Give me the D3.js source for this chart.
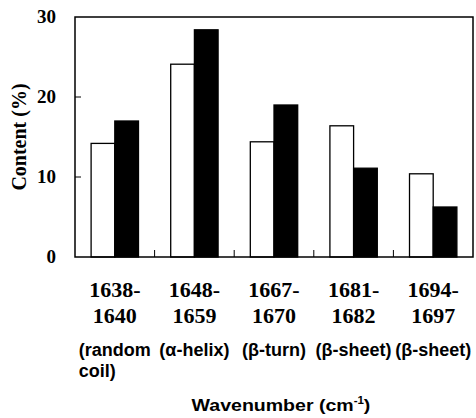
<!DOCTYPE html>
<html>
<head>
<meta charset="utf-8">
<script src="https://cdn.jsdelivr.net/npm/d3@7"></script>
<style>
  body { margin: 0; background: #fff; }
  svg { display: block; }
</style>
</head>
<body>
<svg id="chart" width="476" height="418"></svg>
<script>
'use strict'

// wavenumber ranges (two lines each) and structure assignments
const ranges = [['1638-', '1640'], ['1648-', '1659'], ['1667-', '1670'], ['1681-', '1682'], ['1694-', '1697']]
const structures = [['(random', 'coil)'], ['(\u03b1-helix)'], ['(\u03b2-turn)'], ['(\u03b2-sheet)'], ['(\u03b2-sheet)']]
const series = ['open', 'filled']
const openValues = [14.2, 24.1, 14.4, 16.4, 10.4]
const filledValues = [17.0, 28.4, 19.0, 11.1, 6.25]
const yTicks = [0, 10, 20, 30]

const svg = d3.select('#chart')
const plotLeft = 75, plotRight = 473, plotTop = 17, plotBottom = 257

let x = d3.scaleBand().domain(d3.range(ranges.length)).range([plotLeft, plotRight])
let inner = d3.scaleBand().domain(series).range([0, x.bandwidth()]).paddingOuter(0.68)
let y = d3.scaleLinear().domain([0, 30]).range([plotBottom, plotTop])

let rows = ranges.map((r, i) => ({ i: i, open: openValues[i], filled: filledValues[i] }))

// bars
let groups = svg.append('g').selectAll('g').data(rows).enter().append('g')
    .attr('transform', d => `translate(${x(d.i)},0)`)

groups.selectAll('rect')
    .data(d => series.map(s => ({ key: s, value: d[s] })))
    .enter()
    .append('rect')
    .attr('x', d => inner(d.key))
    .attr('y', d => y(d.value))
    .attr('width', inner.bandwidth())
    .attr('height', d => y(0) - y(d.value))
    .attr('fill', d => d.key === 'open' ? '#fff' : '#000')
    .attr('stroke', '#000')
    .attr('stroke-width', 1.3)

// frame
svg.append('rect')
    .attr('x', plotLeft).attr('y', plotTop)
    .attr('width', plotRight - plotLeft).attr('height', plotBottom - plotTop)
    .attr('fill', 'none').attr('stroke', '#000').attr('stroke-width', 1.5)

// inner tick marks
svg.append('g').selectAll('line').data(yTicks.slice(1, -1)).enter().append('line')
    .attr('x1', plotLeft).attr('x2', plotLeft + 6)
    .attr('y1', d => y(d)).attr('y2', d => y(d))
    .attr('stroke', '#000').attr('stroke-width', 1)

svg.append('g').selectAll('line').data(d3.range(1, ranges.length)).enter().append('line')
    .attr('x1', d => x(d)).attr('x2', d => x(d))
    .attr('y1', plotBottom).attr('y2', plotBottom - 7)
    .attr('stroke', '#000').attr('stroke-width', 1)

// y tick labels
svg.append('g').selectAll('text').data(yTicks).enter().append('text')
    .attr('x', 56).attr('y', d => y(d) + 6)
    .attr('text-anchor', 'end')
    .attr('font-family', 'Liberation Serif, Times New Roman, serif')
    .attr('font-weight', 'bold').attr('font-size', '19px')
    .text(d => d)

svg.append('text')
    .attr('transform', `translate(26,${(plotTop + plotBottom) / 2}) rotate(-90)`)
    .attr('text-anchor', 'middle')
    .attr('font-family', 'Liberation Serif, Times New Roman, serif')
    .attr('font-weight', 'bold').attr('font-size', '20px')
    .text('Content (%)')

// category labels
let cats = svg.append('g').selectAll('g').data(ranges).enter().append('g')
    .attr('transform', (d, i) => `translate(${x(i) + x.bandwidth() / 2},0)`)

cats.append('text')
    .attr('text-anchor', 'middle')
    .attr('font-family', 'Liberation Serif, Times New Roman, serif')
    .attr('font-weight', 'bold').attr('font-size', '22px')
    .selectAll('tspan').data(d => d).enter().append('tspan')
    .attr('x', 0).attr('y', (d, j) => 297 + j * 26)
    .text(d => d)

cats.each(function (d, i) {
    let g = d3.select(this)
    let t = g.append('text')
        .attr('font-family', 'Liberation Sans, Arial, sans-serif')
        .attr('font-weight', 'bold').attr('font-size', '18px')
        .attr('y', 356)
        .attr('text-anchor', 'middle')
        .text(structures[i][0])
    if (structures[i].length > 1) {
        let w = t.node().getComputedTextLength()
        g.append('text')
            .attr('font-family', 'Liberation Sans, Arial, sans-serif')
            .attr('font-weight', 'bold').attr('font-size', '18px')
            .attr('x', -w / 2).attr('y', 377)
            .text(structures[i][1])
    }
})

let xt = svg.append('text')
    .attr('transform', 'translate(281,411) scale(1.15,1)')
    .attr('text-anchor', 'middle')
    .attr('font-family', 'Liberation Sans, Arial, sans-serif')
    .attr('font-weight', 'bold').attr('font-size', '17px')
    .text('Wavenumber (cm')
xt.append('tspan').attr('font-size', '10px').attr('dy', -7).text('-1')
xt.append('tspan').attr('dy', 7).text(')')
</script>
</body>
</html>
